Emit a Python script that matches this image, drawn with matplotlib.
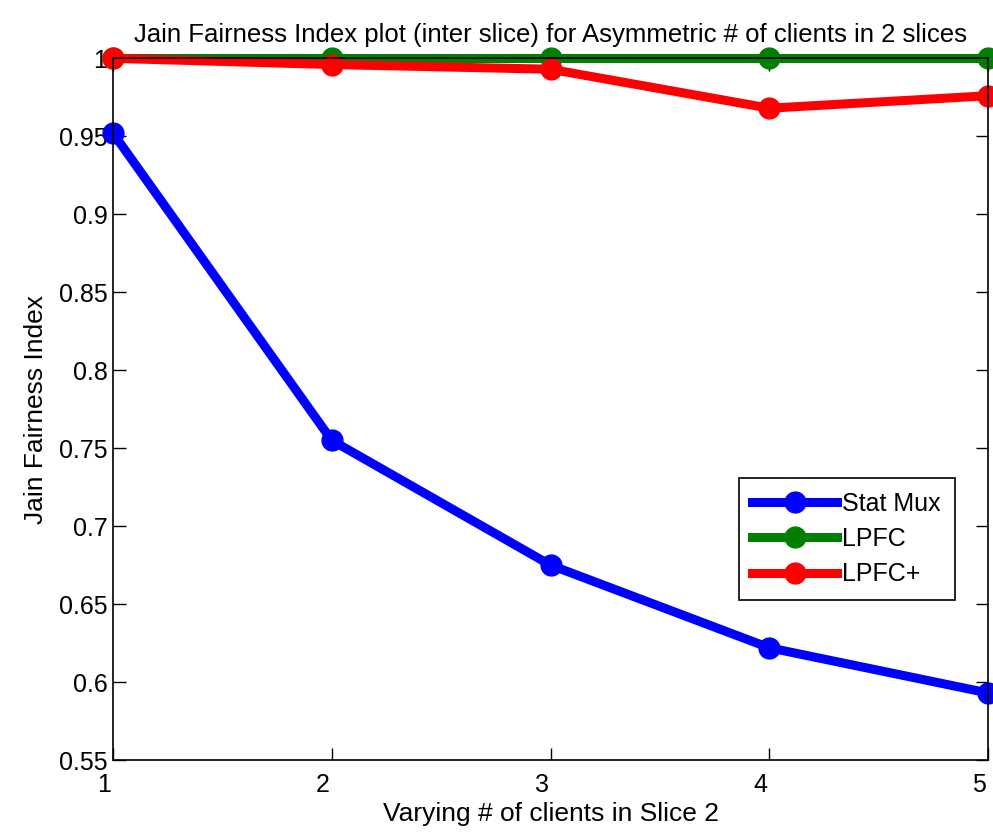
import matplotlib
matplotlib.use("Agg")
import matplotlib.pyplot as plt
from matplotlib.transforms import ScaledTranslation

# datos
clients = [1, 2, 3, 4, 5]
stat_mux = [0.952, 0.755, 0.675, 0.622, 0.593]
lpfc = [1.0, 1.0, 1.0, 1.0, 1.0]
lpfc_plus = [1.0, 0.996, 0.993, 0.968, 0.976]

x_ticks = [1, 2, 3, 4, 5]
y_ticks = [0.55, 0.6, 0.65, 0.7, 0.75, 0.8, 0.85, 0.9, 0.95, 1.0]
y_tick_labels = ["0.55", "0.6", "0.65", "0.7", "0.75", "0.8", "0.85", "0.9", "0.95", "1"]

plt.rcParams['font.family'] = ['Liberation Sans Narrow', 'Liberation Sans', 'DejaVu Sans']

fig = plt.figure(figsize=(9.93, 8.33), dpi=100)
ax = fig.add_axes([0.1138, 0.0876, 0.8812, 0.8424])

lw = 6.5
ms = 15
ax.plot(clients, stat_mux, color='#0000ff', lw=lw, marker='o', ms=ms, label='Stat Mux', clip_on=False)
ax.plot(clients, lpfc, color='#007f00', lw=lw, marker='o', ms=ms, label='LPFC', clip_on=False)
ax.plot(clients, lpfc_plus, color='#ff0000', lw=lw, marker='o', ms=ms, label='LPFC+', clip_on=False)

ax.set_xlim(1, 5)
ax.set_ylim(0.55, 1.0)
ax.set_xticks(x_ticks)
ax.set_xticklabels([str(t) for t in x_ticks])
ax.set_yticks(y_ticks)
ax.set_yticklabels(y_tick_labels)
ax.tick_params(direction='in', length=9, width=1, top=True, right=True,
               labelsize=18, pad=4)
ax.tick_params(axis='x', pad=9)
# etiquetas del eje x un poco a la izquierda, como en MATLAB
shift = ScaledTranslation(-9 / 100, 0, fig.dpi_scale_trans)
for lab in ax.get_xticklabels():
    lab.set_transform(lab.get_transform() + shift)
for s in ax.spines.values():
    s.set_linewidth(1.2)

ax.set_title("Jain Fairness Index plot (inter slice) for Asymmetric # of clients in 2 slices",
             fontsize=18.5, pad=12)
ax.set_xlabel("Varying # of clients in Slice 2", fontsize=19, labelpad=4)
ax.set_ylabel("Jain Fairness Index", fontsize=19, labelpad=8)

leg = ax.legend(loc='lower right', bbox_to_anchor=(0.962, 0.228), fontsize=18,
                fancybox=False, edgecolor='black', framealpha=1, borderaxespad=0,
                handlelength=3.4, borderpad=0.55, labelspacing=0.45, handletextpad=0.2)
leg.get_frame().set_linewidth(1.2)

fig.savefig("out.png", dpi=100)
